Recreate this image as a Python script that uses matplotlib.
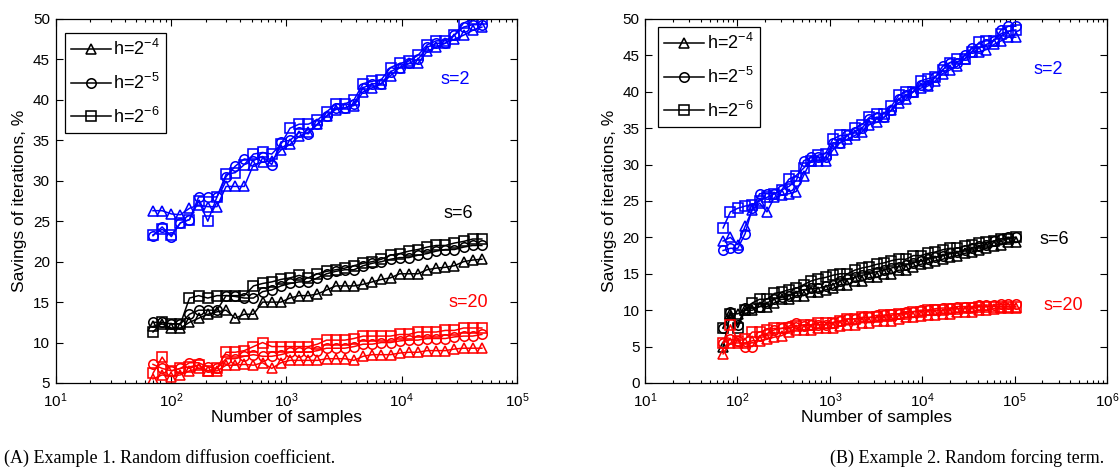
import matplotlib
matplotlib.use("Agg")
import matplotlib.pyplot as plt
from matplotlib.ticker import LogLocator, MultipleLocator, NullFormatter

plt.rcParams['font.family'] = ['Liberation Sans', 'DejaVu Sans']
plt.rcParams['mathtext.fontset'] = 'custom'
plt.rcParams['mathtext.rm'] = 'Liberation Sans'
plt.rcParams['mathtext.it'] = 'Liberation Sans:italic'
plt.rcParams['mathtext.bf'] = 'Liberation Sans:bold'

# ---- sample counts -------------------------------------------------------
samples_a = [70, 84, 101, 121, 145, 174, 209, 251, 301, 361, 433, 520, 624,
             749, 899, 1079, 1294, 1553, 1864, 2236, 2684, 3220, 3864, 4637,
             5565, 6678, 8013, 9616, 11539, 13847, 16616, 19939, 23927,
             28712, 34455, 41346, 49615]
samples_b = samples_a + [59538, 71446, 85735, 102882]

# ---- Example 1: random diffusion coefficient ----------------------------
a_s2_h4 = [26.3, 26.3, 25.9, 25.8, 26.6, 27.0, 26.8, 26.8, 29.3, 29.3, 29.3,
           32.0, 32.3, 32.5, 33.8, 34.5, 35.5, 36.0, 37.0, 38.0, 38.8, 39.0,
           39.3, 41.0, 41.5, 42.0, 43.0, 44.0, 44.5, 44.5, 46.0, 46.5, 47.0,
           47.5, 48.0, 48.6, 49.0]
a_s2_h5 = [23.2, 24.3, 23.1, 24.8, 25.2, 28.0, 28.0, 28.0, 30.5, 31.8, 32.7,
           32.5, 33.0, 32.0, 34.8, 35.0, 36.0, 35.8, 37.0, 38.0, 39.0, 39.0,
           39.5, 41.5, 42.0, 42.0, 43.5, 44.0, 44.5, 45.0, 46.5, 47.0, 47.0,
           48.0, 49.0, 49.3, 49.3]
a_s2_h6 = [23.3, 24.0, 23.3, 24.8, 25.2, 27.5, 25.0, 28.0, 30.8, 31.0, 32.0,
           33.3, 33.5, 33.3, 34.5, 36.5, 37.0, 37.0, 37.5, 38.5, 39.5, 39.5,
           40.0, 42.0, 42.3, 42.5, 44.0, 44.5, 44.8, 45.5, 46.8, 47.3, 47.3,
           48.0, 49.5, 50.0, 50.0]

a_s6_h4 = [12.0, 12.3, 11.8, 11.8, 12.5, 13.0, 13.5, 13.8, 14.0, 13.0, 13.5,
           13.5, 15.0, 15.0, 15.0, 15.5, 15.8, 15.8, 16.0, 16.5, 17.0, 17.0,
           17.0, 17.2, 17.5, 17.8, 18.0, 18.5, 18.5, 18.5, 19.0, 19.2, 19.3,
           19.5, 20.0, 20.2, 20.3]
a_s6_h5 = [12.5, 12.5, 12.3, 12.3, 13.5, 14.0, 14.0, 14.0, 15.8, 15.7, 15.5,
           15.5, 16.3, 16.5, 17.0, 17.3, 17.5, 17.5, 18.0, 18.5, 18.8, 19.0,
           19.0, 19.5, 19.8, 20.0, 20.3, 20.5, 20.5, 20.8, 21.0, 21.3, 21.5,
           21.5, 21.8, 22.0, 22.0]
a_s6_h6 = [11.3, 12.5, 12.3, 12.3, 15.5, 15.8, 15.5, 15.8, 15.8, 15.8, 15.8,
           17.0, 17.3, 17.5, 17.8, 18.0, 18.3, 18.0, 18.5, 18.8, 19.0, 19.2,
           19.5, 19.8, 20.0, 20.3, 20.8, 21.0, 21.3, 21.5, 21.8, 22.0, 22.0,
           22.3, 22.5, 22.8, 22.8]

a_s20_h4 = [5.5, 6.0, 5.8, 6.0, 6.5, 6.8, 6.5, 6.5, 7.2, 7.2, 7.3, 7.2, 7.5,
            6.8, 7.5, 7.8, 7.8, 7.8, 7.8, 8.0, 8.0, 8.0, 7.8, 8.3, 8.5, 8.5,
            8.5, 8.7, 8.8, 8.8, 9.0, 9.0, 9.0, 9.2, 9.3, 9.3, 9.3]
a_s20_h5 = [7.3, 6.8, 6.5, 6.8, 7.5, 7.5, 7.0, 6.8, 8.0, 8.0, 8.3, 8.5, 8.3,
            8.3, 8.5, 8.8, 8.8, 8.8, 9.0, 9.3, 9.3, 9.3, 9.5, 9.8, 9.8, 10.0,
            10.0, 10.2, 10.3, 10.3, 10.5, 10.5, 10.5, 10.7, 10.8, 10.8, 11.0]
a_s20_h6 = [6.2, 8.2, 6.5, 6.8, 7.0, 7.2, 6.5, 6.8, 8.8, 8.8, 9.0, 9.5, 10.0,
            9.5, 9.5, 9.5, 9.5, 9.5, 9.8, 10.3, 10.3, 10.3, 10.5, 10.8, 10.8,
            10.8, 10.8, 11.0, 11.0, 11.3, 11.3, 11.3, 11.5, 11.5, 11.8, 11.8,
            11.8]

# ---- Example 2: random forcing term ------------------------------------
b_s2_h4 = [19.5, 20.0, 19.0, 21.5, 23.8, 24.7, 23.5, 25.5, 25.8, 26.0, 26.3,
           28.5, 30.5, 30.5, 30.5, 32.0, 33.0, 33.5, 34.0, 34.5, 35.5, 35.8,
           36.5, 37.5, 38.5, 39.0, 40.0, 40.5, 40.8, 41.5, 42.5, 43.0, 43.5,
           44.5, 45.5, 45.5, 45.8, 46.5, 47.0, 47.5, 47.5]
b_s2_h5 = [18.2, 18.5, 18.5, 20.5, 24.0, 26.0, 26.0, 26.0, 26.5, 27.0, 27.8,
           30.5, 31.0, 31.0, 31.0, 33.0, 33.0, 34.0, 34.5, 35.0, 36.3, 36.5,
           36.5, 37.5, 39.0, 39.5, 40.0, 41.0, 41.0, 42.0, 43.5, 44.0, 44.0,
           45.0, 46.0, 46.0, 46.5, 47.0, 48.5, 49.0, 49.0]
b_s2_h6 = [21.3, 23.5, 24.0, 24.3, 24.5, 25.0, 25.5, 26.0, 26.5, 28.0, 28.5,
           29.5, 30.5, 31.3, 31.5, 33.5, 34.0, 34.0, 35.0, 35.5, 36.5, 37.0,
           37.0, 38.0, 39.5, 40.0, 40.0, 41.5, 41.8, 42.0, 43.0, 44.0, 44.5,
           44.5, 45.5, 46.8, 47.0, 47.0, 48.0, 48.3, 48.5]

b_s6_h4 = [5.0, 9.5, 9.5, 10.0, 10.0, 10.5, 10.5, 11.0, 11.5, 11.5, 12.0,
           12.0, 12.5, 12.5, 12.8, 13.0, 13.5, 13.5, 14.0, 14.0, 14.5, 14.5,
           15.0, 15.0, 15.5, 15.5, 16.0, 16.3, 16.5, 16.8, 17.0, 17.3, 17.5,
           17.8, 18.0, 18.2, 18.5, 18.8, 19.0, 19.3, 19.3]
b_s6_h5 = [7.6, 9.8, 8.0, 10.3, 10.3, 10.5, 11.0, 11.5, 11.8, 12.0, 12.5,
           12.8, 13.0, 13.0, 13.3, 13.5, 14.0, 14.3, 14.5, 14.8, 15.0, 15.3,
           15.5, 15.8, 16.0, 16.2, 16.5, 16.8, 17.0, 17.3, 17.5, 17.8, 18.0,
           18.3, 18.5, 18.8, 19.0, 19.5, 19.8, 20.0, 20.0]
b_s6_h6 = [7.5, 9.5, 7.6, 10.0, 11.0, 11.5, 11.5, 12.3, 12.5, 12.8, 13.0,
           13.5, 14.0, 14.3, 14.5, 14.8, 15.0, 15.0, 15.5, 15.8, 16.0, 16.3,
           16.5, 16.8, 17.0, 17.0, 17.5, 17.5, 17.8, 18.0, 18.3, 18.5, 18.5,
           18.8, 19.0, 19.2, 19.3, 19.5, 19.8, 19.8, 20.0]

b_s20_h4 = [4.0, 5.5, 5.5, 5.5, 5.8, 5.8, 6.0, 6.3, 6.5, 7.0, 7.3, 7.3, 7.3,
            7.5, 7.5, 7.5, 7.8, 8.0, 8.0, 8.3, 8.3, 8.5, 8.5, 8.5, 8.8, 9.0,
            9.0, 9.2, 9.3, 9.3, 9.5, 9.5, 9.7, 9.8, 9.8, 10.0, 10.0, 10.2,
            10.3, 10.3, 10.3]
b_s20_h5 = [5.5, 6.0, 5.8, 5.0, 5.0, 6.5, 6.8, 7.3, 7.5, 7.8, 8.3, 7.8, 8.0,
            8.0, 8.0, 8.3, 8.5, 8.8, 8.8, 9.0, 9.0, 9.3, 9.3, 9.5, 9.5, 9.8,
            9.8, 10.0, 10.0, 10.2, 10.3, 10.3, 10.5, 10.5, 10.5, 10.7, 10.7,
            10.7, 10.8, 10.8, 10.8]
b_s20_h6 = [5.5, 8.0, 5.8, 6.0, 7.0, 7.0, 7.3, 7.5, 7.5, 7.5, 7.8, 8.0, 8.0,
            8.3, 8.3, 8.3, 8.5, 8.8, 8.8, 9.0, 9.0, 9.0, 9.3, 9.3, 9.5, 9.5,
            9.8, 9.8, 10.0, 10.0, 10.0, 10.2, 10.2, 10.3, 10.3, 10.5, 10.5,
            10.5, 10.5, 10.5, 10.5]

mesh_labels = ['h=$2^{-4}$', 'h=$2^{-5}$', 'h=$2^{-6}$']
mesh_markers = ['^', 'o', 's']
group_labels = ['s=2', 's=6', 's=20']
group_colors = ['#0000ff', '#000000', '#ff0000']
captions = ['(A) Example 1. Random diffusion coefficient.',
            '(B) Example 2. Random forcing term.']

fig = plt.figure(figsize=(11.19, 4.76), dpi=100)
ax_a = fig.add_axes([0.0496, 0.1954, 0.4124, 0.7647])
ax_b = fig.add_axes([0.5764, 0.1954, 0.4129, 0.7647])


def draw_panel(ax, x, groups, ylim, xlim, label_pos, legend_anchor):
    for color, series in zip(group_colors, groups):
        for marker, y in zip(mesh_markers, series):
            ax.plot(x, y, color=color, lw=1.1, marker=marker, ms=6.8,
                    mfc='none', mec=color, mew=1.15)
    for text, color, (lx, ly) in zip(group_labels, group_colors, label_pos):
        ax.text(lx, ly, text, color=color, fontsize=13, ha='center',
                va='center')
    ax.set_xscale('log')
    ax.set_xlim(*xlim)
    ax.set_ylim(*ylim)
    ax.yaxis.set_major_locator(MultipleLocator(5))
    ax.xaxis.set_major_locator(LogLocator(base=10, numticks=10))
    ax.xaxis.set_minor_locator(LogLocator(base=10, subs=range(2, 10),
                                          numticks=20))
    ax.xaxis.set_minor_formatter(NullFormatter())
    ax.tick_params(which='both', direction='in', top=True, right=True,
                   labelsize=11, width=0.8, colors='black')
    ax.tick_params(which='major', length=5, pad=4)
    ax.tick_params(axis='x', which='major', pad=6)
    ax.tick_params(which='minor', length=2.5)
    for sp in ax.spines.values():
        sp.set_linewidth(0.9)
    ax.set_xlabel('Number of samples', fontsize=12.5, labelpad=0)
    ax.set_ylabel('Savings of iterations, %', fontsize=12.5, labelpad=4)
    handles = [plt.Line2D([], [], color='black', lw=1.1, marker=m, ms=6.8,
                          mfc='none', mew=1.15) for m in mesh_markers]
    leg = ax.legend(handles, mesh_labels, loc='upper left',
                    bbox_to_anchor=legend_anchor, fontsize=13,
                    frameon=True, fancybox=False, edgecolor='black',
                    framealpha=1, borderpad=0.35, labelspacing=0.75,
                    handlelength=2.2, handletextpad=0.15, borderaxespad=0)
    leg.get_frame().set_linewidth(0.9)


draw_panel(ax_a, samples_a,
           [[a_s2_h4, a_s2_h5, a_s2_h6],
            [a_s6_h4, a_s6_h5, a_s6_h6],
            [a_s20_h4, a_s20_h5, a_s20_h6]],
           (5, 50), (10, 1e5),
           [(2.9e4, 42.5), (3.1e4, 26.0), (3.8e4, 15.0)],
           (0.02, 0.962))
draw_panel(ax_b, samples_b,
           [[b_s2_h4, b_s2_h5, b_s2_h6],
            [b_s6_h4, b_s6_h5, b_s6_h6],
            [b_s20_h4, b_s20_h5, b_s20_h6]],
           (0, 50), (10, 1e6),
           [(2.3e5, 43.0), (2.7e5, 19.7), (3.4e5, 10.6)],
           (0.028, 0.978))

fig.text(0.004, 0.038, captions[0], family=['Liberation Serif'],
         fontsize=13, ha='left', va='center')
fig.text(0.987, 0.038, captions[1], family=['Liberation Serif'],
         fontsize=13, ha='right', va='center')

fig.savefig('out.png', dpi=100)
